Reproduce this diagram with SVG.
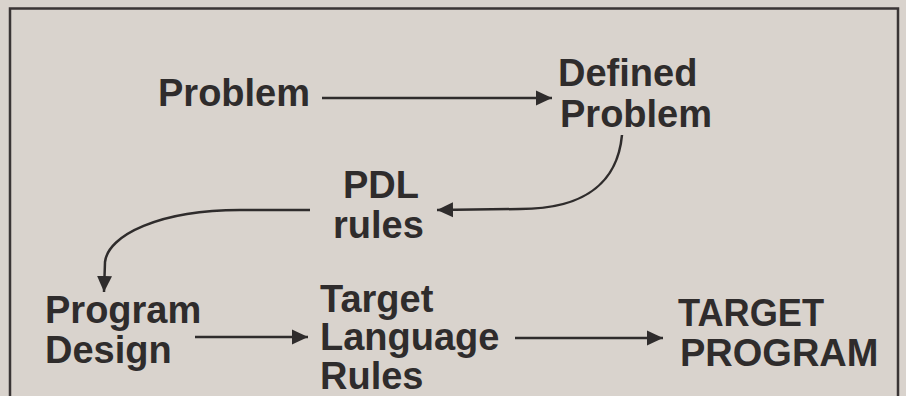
<svg xmlns="http://www.w3.org/2000/svg" width="906" height="396" viewBox="0 0 906 396">
<style>
.t{font-family:"Liberation Sans",Arial,sans-serif;font-weight:bold;font-size:38px;fill:#2f2c2c}
.c{fill:none;stroke:#2f2c2c;stroke-width:2.5}
</style>
<defs>
<marker id="ah" markerUnits="userSpaceOnUse" markerWidth="18" markerHeight="16" refX="16" refY="8" orient="auto">
<path d="M0,0.5 L16,8 L0,15.5 Z" fill="#2f2c2c"/>
</marker>
</defs>
<rect x="0" y="0" width="906" height="396" fill="#d9d3cd"/>
<path d="M10,400 V8.5 H898 V400" fill="none" stroke="#3a3535" stroke-width="2.5"/>
<g id="connectors">
<path class="c" d="M322,98 L552,98" marker-end="url(#ah)"/>
<path class="c" d="M622,135 C618,178 590,209 520,209 L437,210" marker-end="url(#ah)"/>
<path class="c" d="M310,210 L240,210 C160,210 108,235 105,262 L104,292" marker-end="url(#ah)"/>
<path class="c" d="M195,337 L308,337" marker-end="url(#ah)"/>
<path class="c" d="M515,338 L663,338" marker-end="url(#ah)"/>
</g>
<g id="problem"><text class="t" x="158" y="106">Problem</text></g>
<g id="defined-problem"><text class="t" x="558" y="86">Defined</text><text class="t" x="560" y="127">Problem</text></g>
<g id="pdl-rules"><text class="t" x="343" y="198">PDL</text><text class="t" x="333" y="238">rules</text></g>
<g id="program-design"><text class="t" x="45" y="323">Program</text><text class="t" x="45" y="363">Design</text></g>
<g id="target-language-rules"><text class="t" x="320" y="312">Target</text><text class="t" x="320" y="350">Language</text><text class="t" x="320" y="389">Rules</text></g>
<g id="target-program"><text class="t" x="678" y="326" textLength="146" lengthAdjust="spacingAndGlyphs">TARGET</text><text class="t" x="680" y="366">PROGRAM</text></g>
</svg>
